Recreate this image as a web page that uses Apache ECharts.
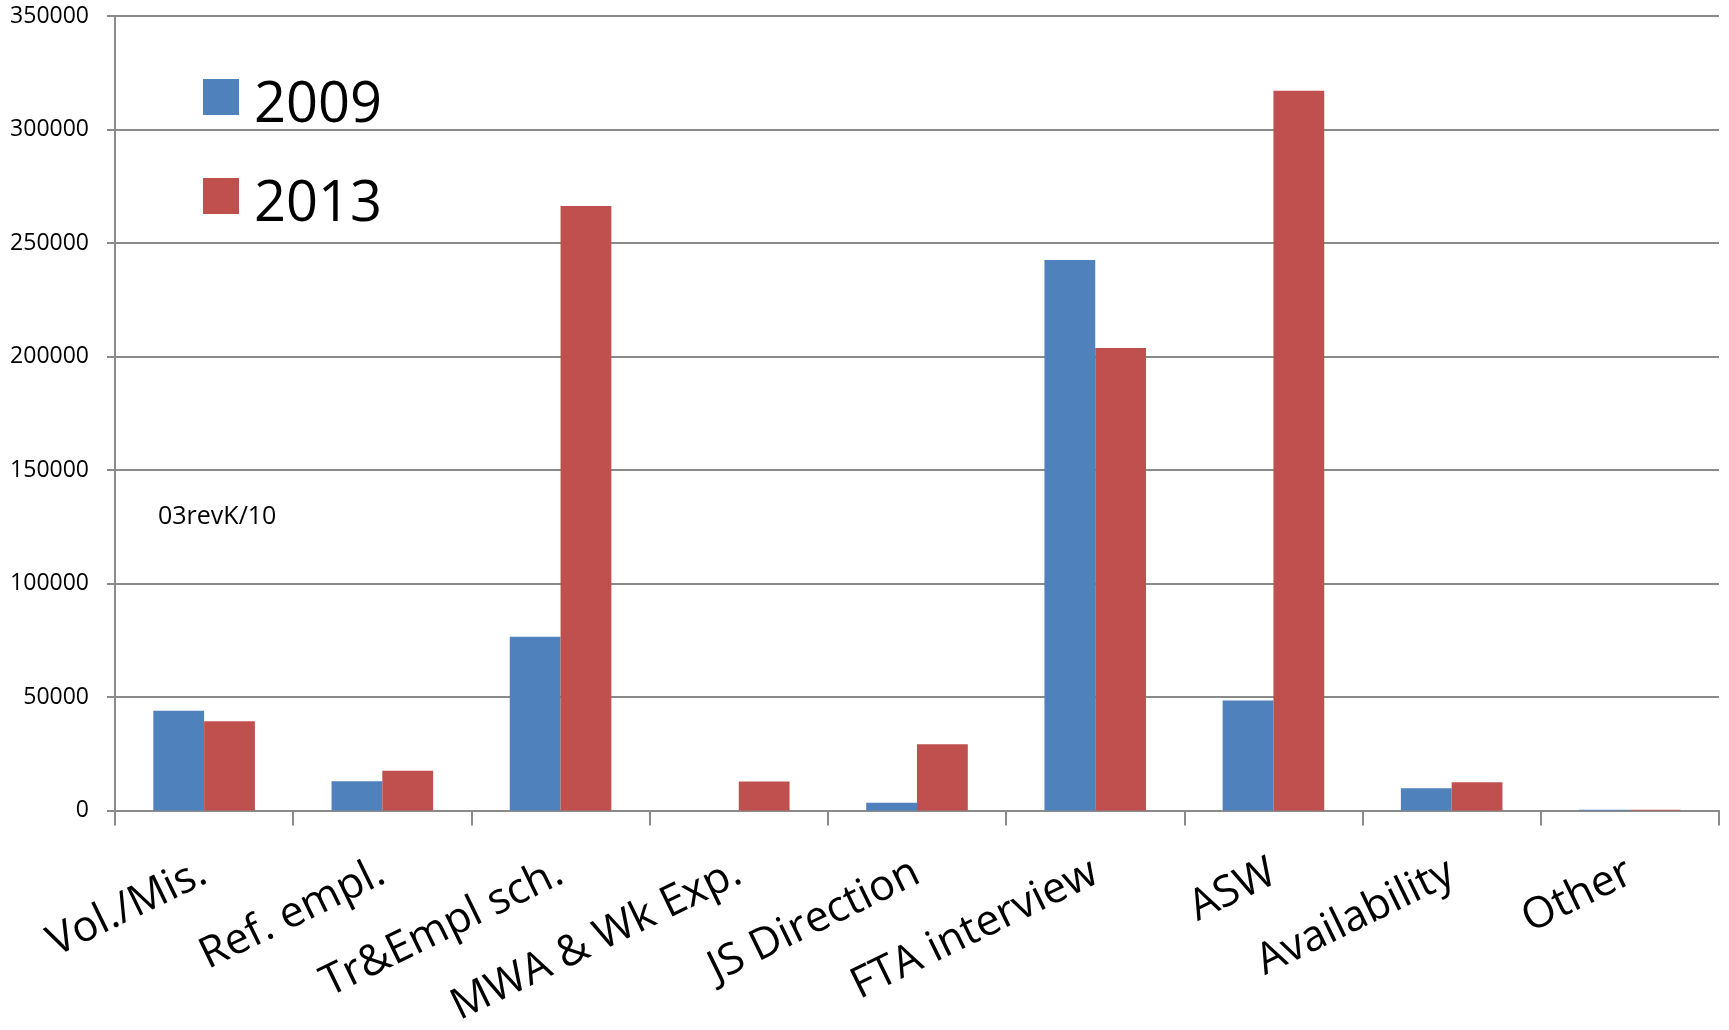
<!DOCTYPE html>
<html>
<head>
<meta charset="utf-8">
<script src="https://cdn.jsdelivr.net/npm/echarts@6/dist/echarts.min.js"></script>
<style>
  html, body { margin: 0; padding: 0; background: #fff; }
  #chart { width: 1729px; height: 1030px; }
</style>
</head>
<body>
<div id="chart"></div>
<script>
// Categories along the x axis
const categories = ['Vol./Mis.', 'Ref. empl.', 'Tr&Empl sch.', 'MWA & Wk Exp.', 'JS Direction', 'FTA interview', 'ASW', 'Availability', 'Other'];
// Series values
const values2009 = [44000, 12900, 76500, 0, 3400, 242500, 48500, 9800, 300];
const values2013 = [39300, 17500, 266300, 12800, 29200, 203700, 317100, 12500, 300];
const seriesNames = ['2009', '2013'];
// Value axis ticks
const yMin = 0, yMax = 350000, yStep = 50000;

const FONT = '"Open Sans", "Noto Sans", sans-serif';
const AXIS_GREY = '#8a8a8a';

const chart = echarts.init(document.getElementById('chart'), null, { renderer: 'canvas' });
chart.setOption({
  animation: false,
  backgroundColor: '#ffffff',
  color: ['#4F81BD', '#C0504D'],
  grid: { left: 115, right: 10, top: 16, bottom: 218, containLabel: false },
  legend: {
    orient: 'vertical',
    left: 198,
    top: 55,
    itemWidth: 36,
    itemHeight: 36,
    itemGap: 25,
    icon: 'rect',
    data: seriesNames,
    formatter: (name) => '{t|' + name + '}',
    textStyle: {
      fontFamily: FONT, fontSize: 56, color: '#000',
      rich: { t: { fontFamily: FONT, fontSize: 56, lineHeight: 49, color: '#000', padding: [18, 0, 0, 10] } }
    }
  },
  graphic: [{
    type: 'text',
    left: 158,
    top: 504,
    style: { text: '03revK/10', fontFamily: FONT, fontSize: 25, fill: '#000' }
  }],
  xAxis: {
    type: 'category',
    data: categories,
    boundaryGap: true,
    axisLine: { show: true, lineStyle: { color: AXIS_GREY, width: 2 } },
    axisTick: { show: true, length: 15, alignWithLabel: false, lineStyle: { color: AXIS_GREY, width: 2 } },
    axisLabel: { interval: 0, rotate: 26, margin: 60, fontFamily: FONT, fontSize: 43, color: '#000' },
    splitLine: { show: false }
  },
  yAxis: {
    type: 'value',
    min: yMin,
    max: yMax,
    interval: yStep,
    axisLine: { show: true, lineStyle: { color: AXIS_GREY, width: 2 } },
    axisTick: { show: true, length: 8, lineStyle: { color: AXIS_GREY, width: 2 } },
    axisLabel: { margin: 26, fontFamily: FONT, fontSize: 23, color: '#000', formatter: (v) => String(v) },
    splitLine: { show: true, lineStyle: { color: AXIS_GREY, width: 2 } }
  },
  series: [
    { name: seriesNames[0], type: 'bar', data: values2009, barGap: '0%', barCategoryGap: '43%' },
    { name: seriesNames[1], type: 'bar', data: values2013, barGap: '0%', barCategoryGap: '43%' }
  ]
});
</script>
</body>
</html>
